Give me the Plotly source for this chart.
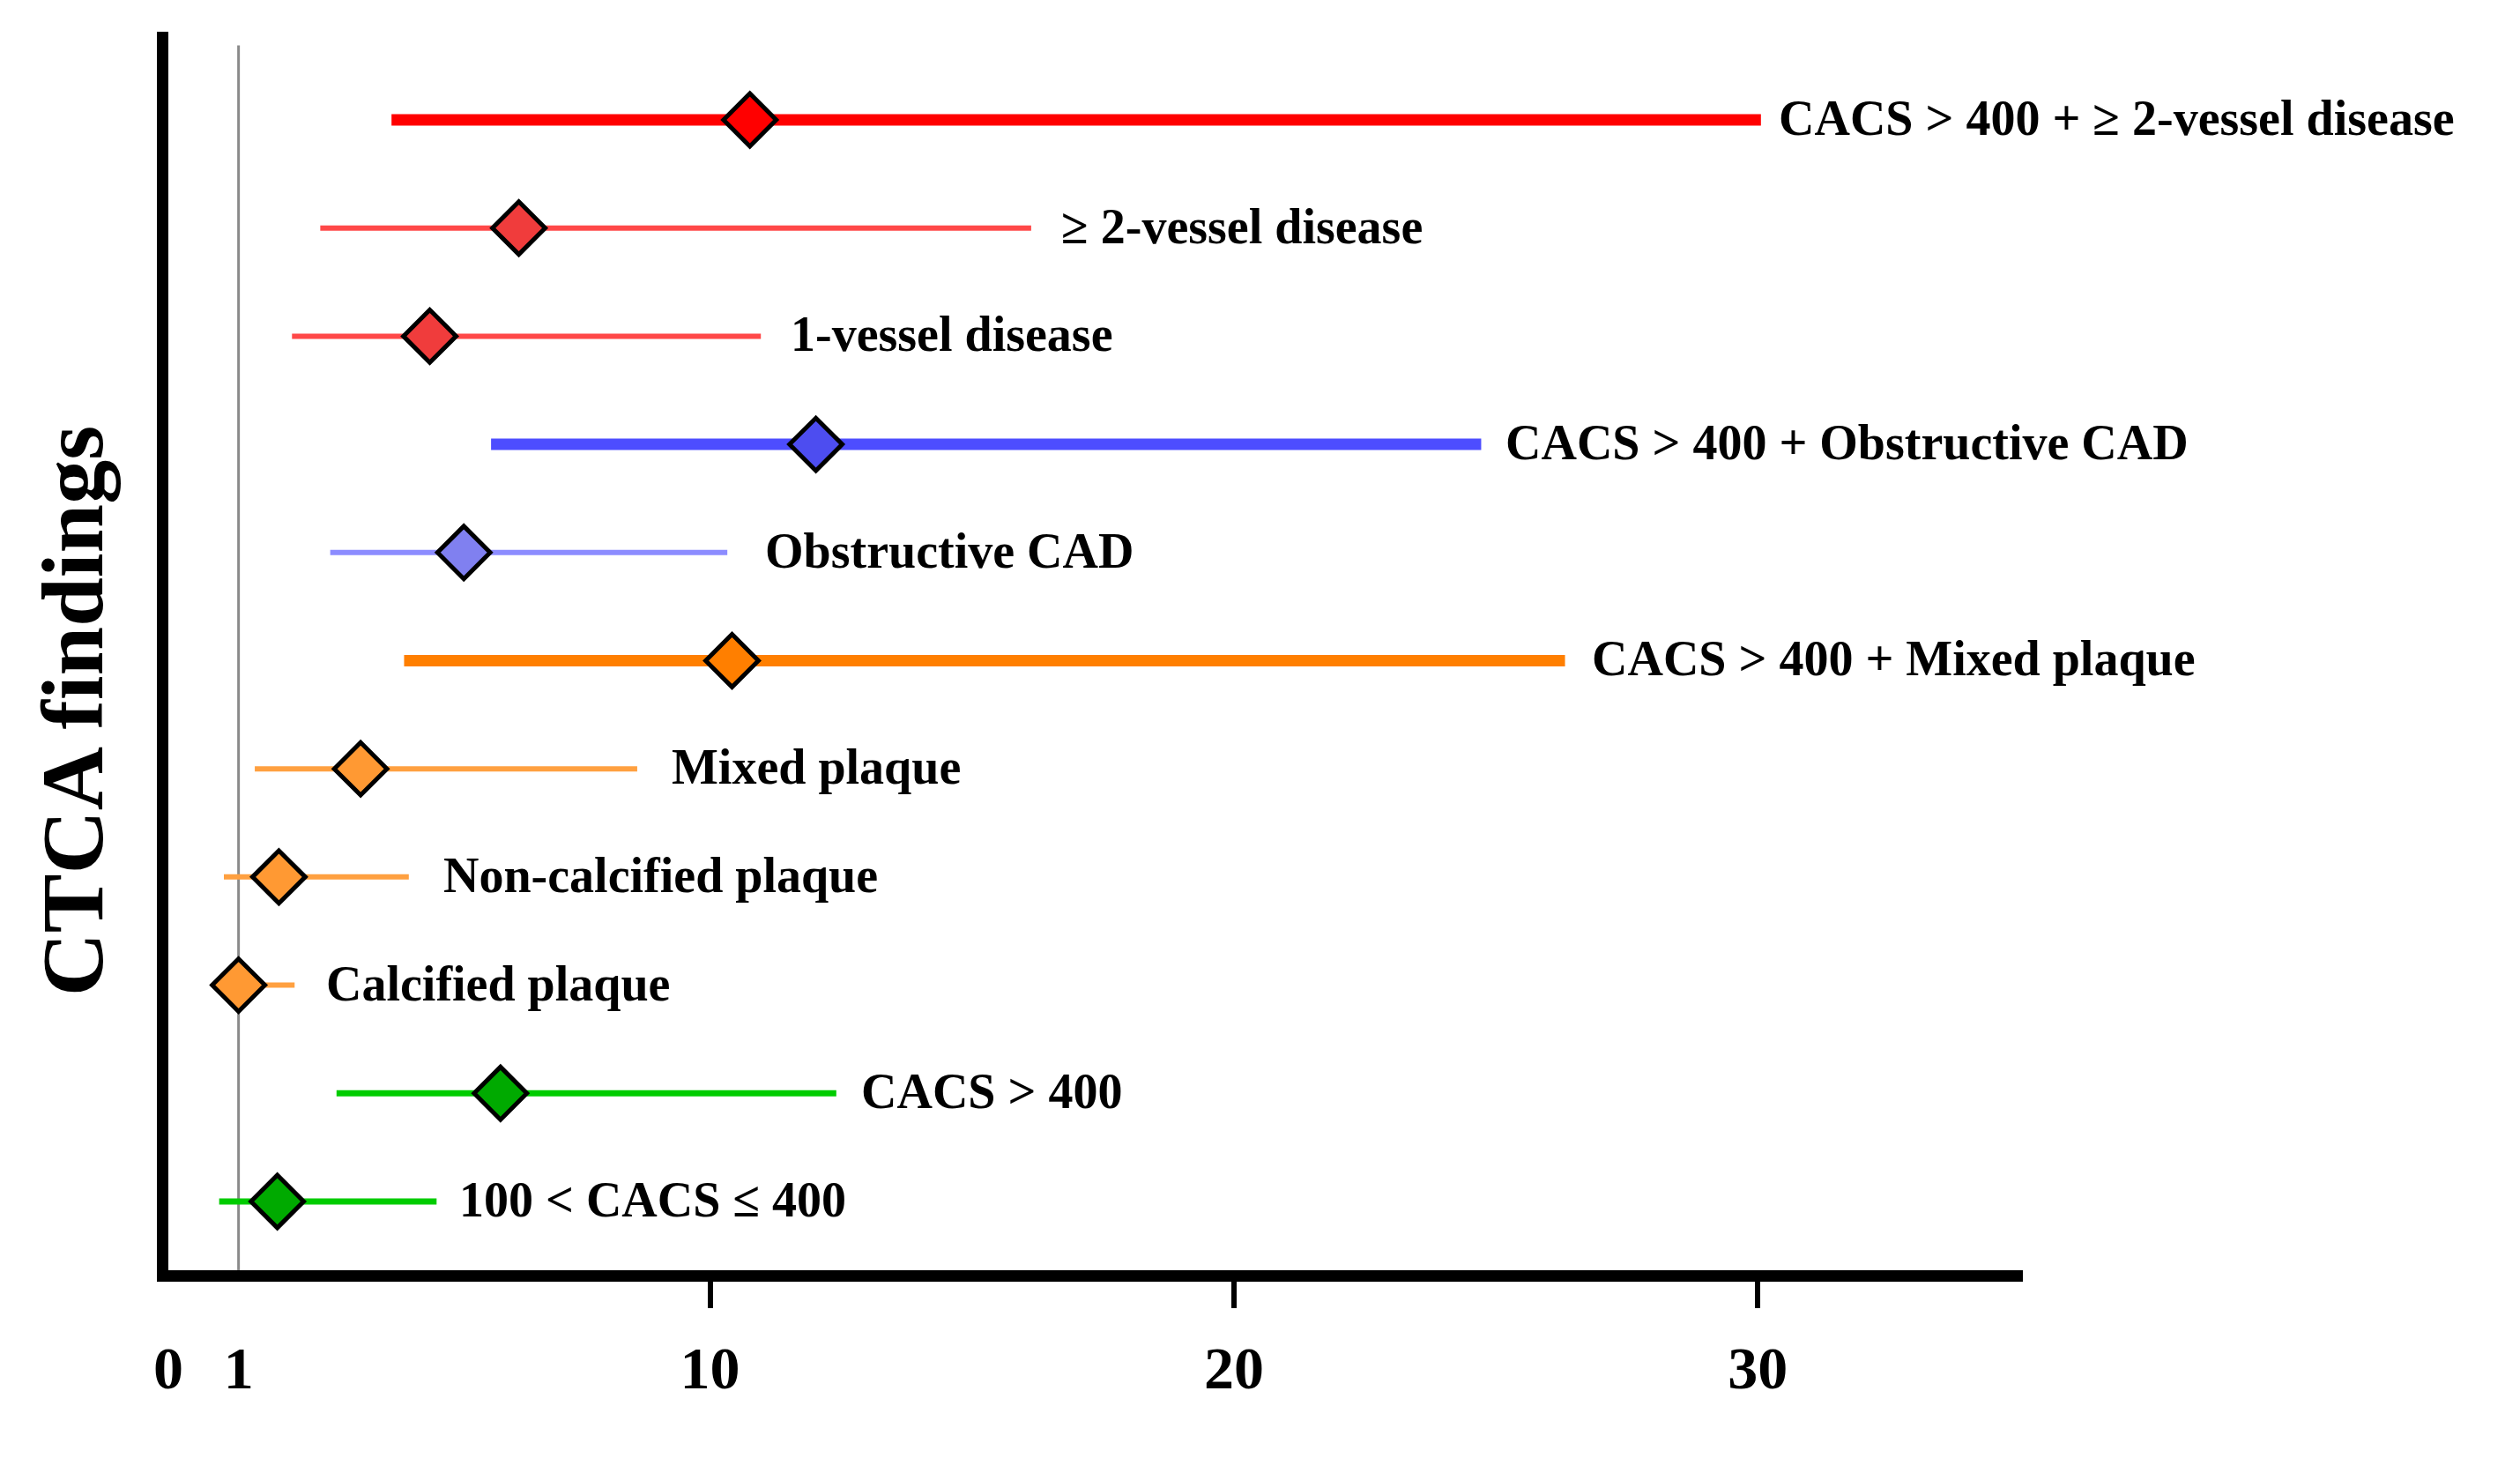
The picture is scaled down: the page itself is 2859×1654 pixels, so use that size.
import plotly.graph_objects as go

# Rows listed bottom -> top
categories = [
    "100 < CACS ≤ 400",
    "CACS > 400",
    "Calcified plaque",
    "Non-calcified plaque",
    "Mixed plaque",
    "CACS > 400 + Mixed plaque",
    "Obstructive CAD",
    "CACS > 400 + Obstructive CAD",
    "1-vessel disease",
    "≥ 2-vessel disease",
    "CACS > 400 + ≥ 2-vessel disease",
]
point_est = [1.74, 6.0, 1.0, 1.77, 3.33, 10.42, 5.30, 12.02, 4.65, 6.35, 10.76]
ci_low = [0.63, 2.87, 0.6, 0.72, 1.31, 4.16, 2.75, 5.82, 2.02, 2.56, 3.92]
ci_high = [4.78, 12.41, 2.07, 4.25, 8.61, 26.32, 10.33, 24.72, 10.97, 16.13, 30.06]

line_colors = ["#00CC00", "#00CC00", "#FFA040", "#FFA040", "#FFA040", "#FF7F00",
               "#8C8CFF", "#4D4DFF", "#FF4848", "#FF4848", "#FF0000"]
marker_colors = ["#00AA00", "#00AA00", "#FF9933", "#FF9933", "#FF9933", "#FF7F00",
                 "#8080F0", "#4D4DF0", "#F03C3C", "#F03C3C", "#FF0000"]
line_widths = [7, 7, 6, 6, 6, 13, 6, 13, 6, 6, 13]
label_gaps = [24, 26, 34, 37, 37, 28, 41, 26, 32, 32, 18]

X_MIN, X_MAX = -0.34, 35.06
tick_vals = [X_MIN, 1, 10, 20, 30]
tick_text = ["0", "1", "10", "20", "30"]
major_ticks = [10, 20, 30]
ref_value = 1

FONT = "Liberation Serif"

fig = go.Figure()

for i, cat in enumerate(categories):
    fig.add_trace(go.Scatter(
        x=[ci_low[i], ci_high[i]], y=[cat, cat], mode="lines",
        line=dict(color=line_colors[i], width=line_widths[i]),
        hoverinfo="skip", showlegend=False))

fig.add_trace(go.Scatter(
    x=point_est, y=categories, mode="markers",
    marker=dict(symbol="diamond", size=46, color=marker_colors,
                line=dict(color="black", width=5)),
    showlegend=False))

# invisible trace to anchor secondary tick axis
fig.add_trace(go.Scatter(x=[X_MIN], y=[categories[0]], xaxis="x2", mode="markers",
                         marker=dict(opacity=0), hoverinfo="skip", showlegend=False))

for i, cat in enumerate(categories):
    fig.add_annotation(x=ci_high[i], y=cat, text=cat, showarrow=False,
                       xanchor="left", yanchor="middle", xshift=label_gaps[i], yshift=2,
                       font=dict(family=FONT, size=56, color="black", weight="bold"))

fig.add_shape(type="line", x0=ref_value, x1=ref_value, xref="x", yref="paper",
              y0=0, y1=0.989, line=dict(color="#8A8A8A", width=3), layer="below")

fig.add_annotation(text="CTCA findings", textangle=-90, xref="paper", yref="paper",
                   x=-0.0518, y=0.451, showarrow=False, xanchor="center", yanchor="middle",
                   font=dict(family=FONT, size=100, color="black", weight="bold"))

fig.update_layout(
    width=2859, height=1654,
    margin=dict(l=183, r=572, t=28, b=221),
    plot_bgcolor="white", paper_bgcolor="white",
    showlegend=False,
    xaxis=dict(range=[X_MIN, X_MAX], tickmode="array", tickvals=tick_vals, ticktext=tick_text,
               ticks="outside", ticklen=39, tickcolor="rgba(0,0,0,0)",
               showgrid=False, zeroline=False, showline=True, linewidth=13, linecolor="black",
               tickfont=dict(family=FONT, size=68, color="black", weight="bold")),
    xaxis2=dict(range=[X_MIN, X_MAX], overlaying="x", anchor="y", side="bottom",
                tickmode="array", tickvals=major_ticks, ticks="outside", ticklen=42,
                tickwidth=6, tickcolor="black", showticklabels=False,
                showgrid=False, zeroline=False, showline=False),
    yaxis=dict(type="category", categoryorder="array", categoryarray=categories,
               range=[-0.636, 10.815], showticklabels=False, ticks="",
               showgrid=False, zeroline=False, showline=True, linewidth=13, linecolor="black"),
)

fig.write_html("out.html")
